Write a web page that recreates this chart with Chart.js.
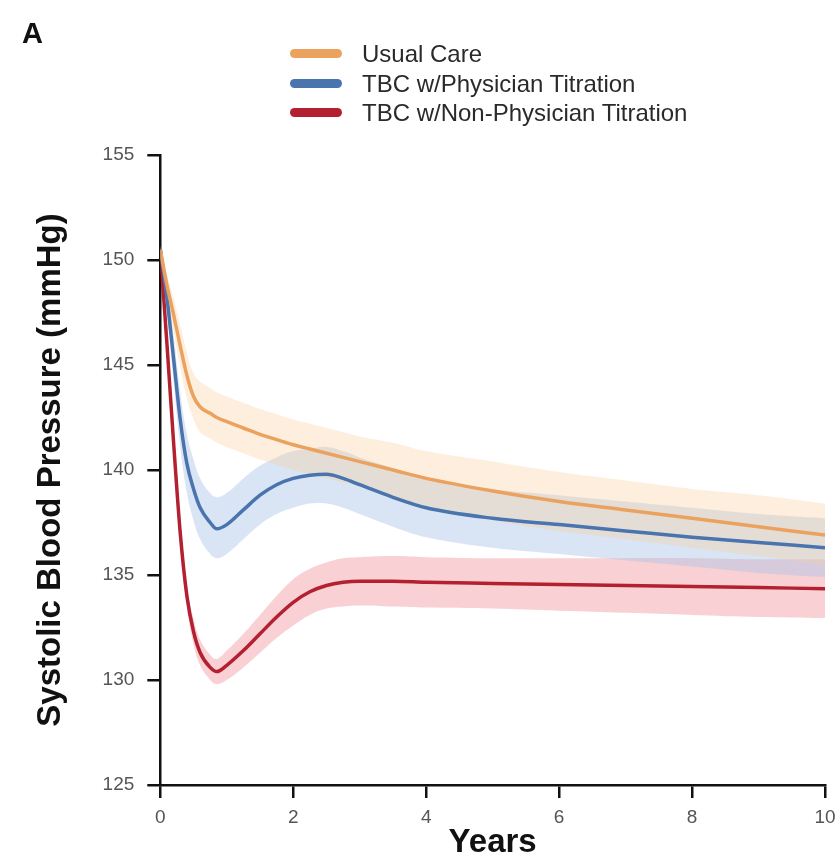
<!DOCTYPE html>
<html>
<head>
<meta charset="utf-8">
<script src="https://cdn.jsdelivr.net/npm/chart.js@4.4.1/dist/chart.umd.min.js"></script>
<style>
  body { margin: 0; background: #fff; font-family: "Liberation Sans", Arial, sans-serif; }
  #wrap { position: relative; width: 838px; height: 859px; }
  #panel { position: absolute; left: 22px; top: 19px; font-size: 29px; line-height: 1; font-weight: bold; color: #111; }
  #legend { position: absolute; left: 290px; top: 39px; font-size: 24px; color: #2a2a2a; }
  #legend div { height: 29.5px; line-height: 29.5px; display: flex; align-items: center; white-space: nowrap; }
  #legend span.sw { display: inline-block; width: 52px; height: 9px; border-radius: 5px; margin-right: 20px; }
</style>
</head>
<body>
<div id="wrap">
  <canvas id="bpChart" width="838" height="859"></canvas>
  <div id="panel">A</div>
  <div id="legend"></div>
</div>
<script>
// time points (years)
const years = [0, 0.1, 0.2, 0.3, 0.4, 0.5, 0.6, 0.75, 0.85, 1, 1.25, 1.5, 1.75, 2, 2.25, 2.5, 2.75, 3, 3.5, 4, 5, 6, 7, 8, 9, 10];

// Usual Care
const usualCare      = [150.5, 148.8, 147.4, 145.9, 144.5, 143.5, 143.0, 142.7, 142.5, 142.3, 142.0, 141.7, 141.45, 141.2, 141.0, 140.8, 140.6, 140.4, 140.0, 139.6, 139.0, 138.5, 138.1, 137.7, 137.3, 136.9];
const usualCareUpper = [150.7, 149.3, 148.2, 146.9, 145.6, 144.6, 144.2, 143.9, 143.7, 143.5, 143.2, 142.9, 142.65, 142.4, 142.2, 142.0, 141.8, 141.6, 141.3, 140.9, 140.4, 139.9, 139.5, 139.1, 138.8, 138.4];
const usualCareLower = [150.3, 148.3, 146.6, 144.9, 143.4, 142.4, 141.8, 141.5, 141.3, 141.1, 140.8, 140.5, 140.25, 140.0, 139.8, 139.6, 139.4, 139.2, 138.7, 138.3, 137.6, 137.1, 136.7, 136.3, 135.9, 135.5];

// TBC w/Physician Titration
const physician      = [150.5, 148.2, 145.3, 142.4, 140.3, 139.1, 138.2, 137.5, 137.2, 137.4, 138.1, 138.8, 139.3, 139.6, 139.75, 139.8, 139.6, 139.3, 138.7, 138.2, 137.7, 137.4, 137.1, 136.8, 136.55, 136.3];
const physicianUpper = [150.7, 148.9, 146.4, 143.7, 141.7, 140.5, 139.6, 138.9, 138.7, 138.9, 139.6, 140.2, 140.6, 140.9, 141.0, 141.1, 140.9, 140.6, 140.1, 139.6, 139.1, 138.8, 138.5, 138.2, 137.9, 137.7];
const physicianLower = [150.3, 147.5, 144.2, 141.1, 138.9, 137.6, 136.7, 136.0, 135.8, 136.0, 136.7, 137.4, 137.9, 138.2, 138.4, 138.4, 138.2, 137.9, 137.3, 136.8, 136.3, 136.0, 135.7, 135.4, 135.1, 134.9];

// TBC w/Non-Physician Titration
const nonPhysician      = [150.5, 146.0, 141.3, 137.0, 134.0, 132.3, 131.3, 130.6, 130.4, 130.7, 131.4, 132.2, 133.0, 133.7, 134.2, 134.5, 134.65, 134.7, 134.7, 134.65, 134.6, 134.55, 134.5, 134.45, 134.4, 134.35];
const nonPhysicianUpper = [150.7, 146.5, 141.8, 137.5, 134.5, 132.9, 131.9, 131.2, 131.0, 131.4, 132.2, 133.1, 134.0, 134.8, 135.3, 135.6, 135.8, 135.85, 135.9, 135.85, 135.8, 135.8, 135.8, 135.8, 135.75, 135.75];
const nonPhysicianLower = [150.3, 145.5, 140.8, 136.5, 133.5, 131.7, 130.7, 130.0, 129.8, 130.0, 130.6, 131.3, 132.0, 132.6, 133.1, 133.4, 133.5, 133.55, 133.5, 133.45, 133.4, 133.3, 133.2, 133.1, 133.0, 132.95];

const xTicks = [0, 2, 4, 6, 8, 10];
const yTicks = [125, 130, 135, 140, 145, 150, 155];

const seriesNames = ['Usual Care', 'TBC w/Physician Titration', 'TBC w/Non-Physician Titration'];
const lineColors = ['#EBA25E', '#4A74AE', '#B3202F'];
const bandColors = ['rgba(250,205,160,0.35)', 'rgba(170,198,230,0.45)', 'rgba(242,150,160,0.45)'];

const toPts = arr => arr.map((v, i) => ({ x: years[i], y: v }));

const allSeries = [
  [usualCare, usualCareUpper, usualCareLower],
  [physician, physicianUpper, physicianLower],
  [nonPhysician, nonPhysicianUpper, nonPhysicianLower]
];

const datasets = [];
allSeries.forEach((s, k) => {
  const base = datasets.length;
  datasets.push({
    data: toPts(s[1]), borderWidth: 0, pointRadius: 0,
    backgroundColor: bandColors[k], fill: base + 1, tension: 0.4, order: 10
  });
  datasets.push({
    data: toPts(s[2]), borderWidth: 0, pointRadius: 0,
    backgroundColor: bandColors[k], fill: false, tension: 0.4, order: 10
  });
});
allSeries.forEach((s, k) => {
  datasets.push({
    label: seriesNames[k], data: toPts(s[0]), borderColor: lineColors[k],
    borderWidth: 3.5, pointRadius: 0, fill: false,
    cubicInterpolationMode: 'monotone', order: 1
  });
});

// legend as html
const legendEl = document.getElementById('legend');
seriesNames.forEach((n, k) => {
  const row = document.createElement('div');
  row.innerHTML = '<span class="sw" style="background:' + lineColors[k] + '"></span>' + n;
  legendEl.appendChild(row);
});

const ctx = document.getElementById('bpChart');
new Chart(ctx, {
  type: 'line',
  data: { datasets: datasets },
  options: {
    responsive: false,
    animation: false,
    layout: { padding: { top: 155, right: 3, left: 31, bottom: 0 } },
    plugins: { legend: { display: false }, tooltip: { enabled: false } },
    scales: {
      x: {
        type: 'linear', min: 0, max: 10,
        afterBuildTicks: axis => { axis.ticks = xTicks.map(v => ({ value: v })); },
        afterFit: axis => { axis.height = 74; axis.paddingRight = 13; axis.paddingLeft = 0; },
        grid: { drawOnChartArea: false, color: '#111', tickLength: 13, lineWidth: 2.5 },
        border: { color: '#111', width: 2.5 },
        ticks: { color: '#555', font: { size: 19, family: 'Liberation Sans', lineHeight: 1 }, padding: 10, maxRotation: 0 },
        title: { display: true, text: 'Years', color: '#111', font: { size: 33, weight: 'bold', family: 'Liberation Sans', lineHeight: 1 }, padding: { top: 0, bottom: 0 } }
      },
      y: {
        min: 125, max: 155,
        afterBuildTicks: axis => { axis.ticks = yTicks.map(v => ({ value: v })); },
        grid: { drawOnChartArea: false, color: '#111', tickLength: 13, lineWidth: 2.5 },
        border: { color: '#111', width: 2.5 },
        ticks: { color: '#555', font: { size: 19, family: 'Liberation Sans' }, padding: 13 },
        title: { display: true, text: 'Systolic Blood Pressure (mmHg)', color: '#111', font: { size: 33, weight: 'bold', family: 'Liberation Sans' }, padding: { top: 0, bottom: 19 } }
      }
    }
  }
});
</script>
</body>
</html>
